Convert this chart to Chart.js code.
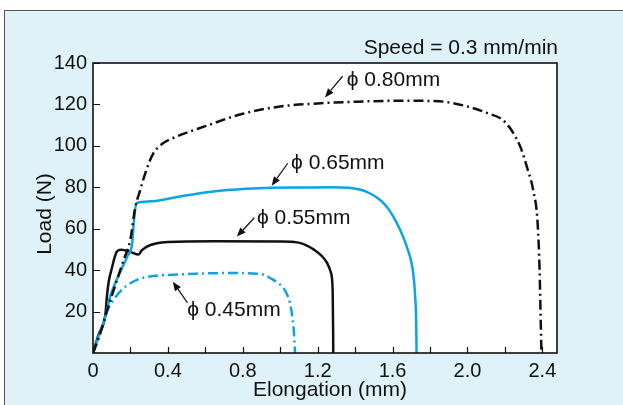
<!DOCTYPE html>
<html>
<head>
    <title>Load vs Elongation</title>
    <script src="https://cdn.jsdelivr.net/npm/chart.js"></script>
    <style>
        body { margin: 0; background: #ffffff; }
        #wrap { position: relative; width: 623px; height: 405px; overflow: hidden; }
        #panel {
            position: absolute; left: 4px; top: 10px; right: 0; bottom: 0;
            background: #dff1f9; border-top: 1px solid #555; border-left: 1px solid #555;
        }
        #myChart { position: absolute; left: 0; top: 0; }
    </style>
</head>
<body>
    <div id="wrap">
        <div id="panel"></div>
        <canvas id="myChart" width="623" height="405"></canvas>
    </div>

    <script>
        // phi 0.80 mm (black dash-dot)
        var x80 = [0, 0.04, 0.08, 0.12, 0.16, 0.2, 0.225, 0.25, 0.28, 0.32, 0.37, 0.45, 0.6, 0.8, 1.0, 1.2, 1.4, 1.64, 1.85, 2.0, 2.1, 2.2, 2.28, 2.32, 2.35, 2.375, 2.385, 2.39, 2.395];
        var y80 = [0, 10, 22, 33, 44, 55, 70, 78, 87, 96, 101, 104.6, 109.5, 115.5, 119, 120.5, 121.3, 121.8, 121.5, 119, 116, 111.5, 100, 89, 79, 62, 40, 20, 0];
        // phi 0.65 mm (blue solid)
        var x65 = [0, 0.03, 0.066, 0.092, 0.12, 0.155, 0.185, 0.208, 0.218, 0.232, 0.3, 0.466, 0.643, 0.82, 0.95, 1.1, 1.28, 1.425, 1.48, 1.532, 1.57, 1.603, 1.64, 1.675, 1.71, 1.72, 1.726, 1.728];
        var y65 = [0, 8, 17.6, 27.3, 34, 41, 47, 52, 63, 72.4, 73.2, 75.6, 78, 79.3, 79.8, 79.9, 80, 78.9, 77, 74, 70.5, 66, 59.5, 51.5, 38.6, 28, 15, 0];
        // phi 0.55 mm (black solid)
        var x55 = [0, 0.03, 0.066, 0.075, 0.085, 0.101, 0.115, 0.128, 0.15, 0.2, 0.243, 0.26, 0.288, 0.341, 0.4, 0.643, 1.0, 1.09, 1.14, 1.18, 1.22, 1.25, 1.27, 1.28, 1.2825, 1.283];
        var y55 = [0, 9, 18.5, 28, 35, 41, 46, 49, 49.8, 48.8, 47.5, 49.5, 51.4, 53, 53.6, 53.9, 53.8, 53.4, 52, 49.9, 47, 43.5, 39, 30, 10, 0];
        // phi 0.45 mm (blue dash-dot)
        var x45 = [0, 0.039, 0.075, 0.11, 0.163, 0.235, 0.323, 0.43, 0.55, 0.73, 0.875, 0.92, 0.946, 0.985, 1.017, 1.04, 1.052, 1.065, 1.073, 1.079];
        var y45 = [0, 9.6, 20, 25.7, 31.3, 35.3, 37.2, 37.8, 38.3, 38.6, 38.3, 37.5, 36.2, 34, 31.4, 27.5, 24.1, 17, 10, 0];

        var xTickLabels = [0, 0.4, 0.8, 1.2, 1.6, 2.0, 2.4];
        var xMinorTicks = [0.2, 0.4, 0.6, 0.8, 1.0, 1.2, 1.4, 1.6, 1.8, 2.0, 2.2, 2.4];
        var yTickLabels = [20, 40, 60, 80, 100, 120, 140];

        // annotation labels: text anchor, arrow tail, arrow head (data units)
        var notes = [
            { text: '\u03D5 0.80mm', tx: 1.355, ty: 131.7, ax: 1.333, ay: 133.6, hx: 1.239, hy: 123.4 },
            { text: '\u03D5 0.65mm', tx: 1.058, ty: 91.8, ax: 1.04, ay: 91.6, hx: 0.954, hy: 80.8 },
            { text: '\u03D5 0.55mm', tx: 0.876, ty: 65, ax: 0.862, ay: 65.3, hx: 0.768, hy: 56.2 },
            { text: '\u03D5 0.45mm', tx: 0.503, ty: 20.9, ax: 0.505, ay: 24.2, hx: 0.426, hy: 34.4 }
        ];

        var FONT = "'Liberation Sans', Arial, sans-serif";
        var BLUE = '#0aa5e2';
        var BLACK = '#111111';

        function pairs(xs, ys) {
            return xs.map(function (x, i) { return { x: x, y: ys[i] }; });
        }

        function arrow(ctx, x1, y1, x2, y2) {
            var ang = Math.atan2(y2 - y1, x2 - x1);
            var len = 9, w = 3.6;
            var bx = x2 - len * Math.cos(ang), by = y2 - len * Math.sin(ang);
            ctx.beginPath();
            ctx.moveTo(x1, y1);
            ctx.lineTo(bx, by);
            ctx.stroke();
            ctx.beginPath();
            ctx.moveTo(x2, y2);
            ctx.lineTo(bx + w * Math.sin(ang), by - w * Math.cos(ang));
            ctx.lineTo(bx - w * Math.sin(ang), by + w * Math.cos(ang));
            ctx.closePath();
            ctx.fill();
        }

        var decor = {
            id: 'decor',
            beforeDatasetsDraw: function (chart) {
                var a = chart.chartArea, ctx = chart.ctx;
                ctx.save();
                ctx.fillStyle = '#ffffff';
                ctx.fillRect(a.left, a.top, a.right - a.left, a.bottom - a.top);
                ctx.restore();
            },
            afterDatasetsDraw: function (chart) {
                var a = chart.chartArea, ctx = chart.ctx;
                var xs = chart.scales.x, ys = chart.scales.y;
                ctx.save();
                // inside ticks
                ctx.strokeStyle = BLACK;
                ctx.lineWidth = 1.2;
                ctx.beginPath();
                xMinorTicks.forEach(function (v) {
                    var px = Math.round(xs.getPixelForValue(v)) + 0.5;
                    ctx.moveTo(px, a.bottom);
                    ctx.lineTo(px, a.bottom - 6);
                });
                yTickLabels.forEach(function (v) {
                    var py = Math.round(ys.getPixelForValue(v)) + 0.5;
                    ctx.moveTo(a.left, py);
                    ctx.lineTo(a.left + 7, py);
                });
                ctx.stroke();
                // frame
                ctx.lineWidth = 1.6;
                ctx.strokeRect(a.left, a.top, a.right - a.left, a.bottom - a.top);

                // annotations
                ctx.fillStyle = BLACK;
                ctx.font = '21px ' + FONT;
                ctx.textBaseline = 'middle';
                ctx.textAlign = 'left';
                ctx.lineWidth = 1.2;
                notes.forEach(function (n) {
                    ctx.fillText(n.text, xs.getPixelForValue(n.tx), ys.getPixelForValue(n.ty));
                    arrow(ctx, xs.getPixelForValue(n.ax), ys.getPixelForValue(n.ay),
                        xs.getPixelForValue(n.hx), ys.getPixelForValue(n.hy));
                });

                // speed note
                ctx.textAlign = 'right';
                ctx.fillText('Speed = 0.3 mm/min', a.right + 1, 48);

                // axis titles
                ctx.textAlign = 'center';
                ctx.fillText('Elongation (mm)', 330, 390);
                ctx.translate(45, 214);
                ctx.rotate(-Math.PI / 2);
                ctx.fillText('Load (N)', 0, 0);
                ctx.restore();
            }
        };

        var ctx = document.getElementById('myChart').getContext('2d');
        var myChart = new Chart(ctx, {
            type: 'scatter',
            data: {
                datasets: [
                    { label: '0.80mm', data: pairs(x80, y80), borderColor: BLACK, borderDash: [10, 4, 2, 4] },
                    { label: '0.65mm', data: pairs(x65, y65), borderColor: BLUE },
                    { label: '0.55mm', data: pairs(x55, y55), borderColor: BLACK },
                    { label: '0.45mm', data: pairs(x45, y45), borderColor: BLUE, borderDash: [10, 4, 2, 4] }
                ]
            },
            options: {
                responsive: false,
                animation: false,
                showLine: true,
                layout: { padding: { top: 63, right: 66, left: 0, bottom: 0 } },
                elements: {
                    point: { radius: 0, hoverRadius: 0 },
                    line: { borderWidth: 2.5, cubicInterpolationMode: 'monotone', fill: false }
                },
                plugins: {
                    legend: { display: false },
                    tooltip: { enabled: false }
                },
                scales: {
                    x: {
                        type: 'linear', min: 0, max: 2.478,
                        grid: { display: false, drawTicks: false },
                        border: { display: false },
                        afterFit: function (s) { s.height = 52; },
                        afterBuildTicks: function (s) {
                            s.ticks = xTickLabels.map(function (v) { return { value: v }; });
                        },
                        ticks: {
                            autoSkip: false, maxRotation: 0, padding: 6, color: BLACK,
                            font: { family: FONT, size: 20 },
                            callback: function (v) { return v === 0 ? '0' : v.toFixed(1); }
                        }
                    },
                    y: {
                        type: 'linear', min: 0, max: 140,
                        grid: { display: false, drawTicks: false },
                        border: { display: false },
                        afterFit: function (s) { s.width = 93; },
                        afterBuildTicks: function (s) {
                            s.ticks = yTickLabels.map(function (v) { return { value: v }; });
                        },
                        ticks: {
                            autoSkip: false, padding: 6, color: BLACK,
                            font: { family: FONT, size: 20 },
                            callback: function (v) { return String(v); }
                        }
                    }
                }
            },
            plugins: [decor]
        });
    </script>
</body>
</html>
